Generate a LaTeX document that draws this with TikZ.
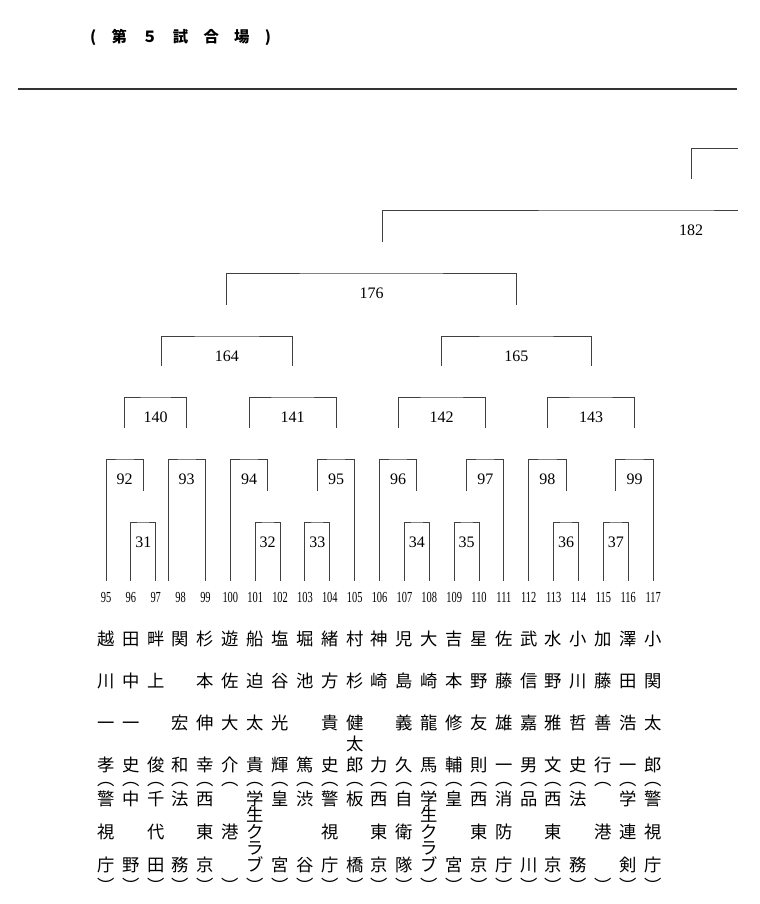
\documentclass[tikz,border=0pt]{standalone}
\usepackage{fontspec}
\setmainfont{Liberation Serif}
\newfontfamily\jp{Noto Sans CJK JP}
\newfontfamily\narrow[FakeStretch=0.68]{Liberation Serif}
\usetikzlibrary{positioning,calc}
\tikzset{font=\fontsize{12}{12}\selectfont}

\begin{document}
\begin{tikzpicture}[x=0.75pt,y=-0.75pt,
    tie/.style={draw=black!75,line width=0.7pt},
    match/.style={anchor=north,minimum height=30pt,inner sep=0pt},
    num/.style={anchor=base,inner sep=0pt,font=\narrow\fontsize{11.5}{11.5}\selectfont},
    who/.style={anchor=north,inner sep=0pt,align=center,font=\jp\fontsize{13}{31.7}\selectfont},
    club/.style={anchor=north,inner sep=0pt,align=center,font=\jp\fontsize{13}{24.75}\selectfont},
    paren/.style={anchor=north,inner sep=0pt,font=\jp\fontsize{13}{13}\selectfont}]
  \useasboundingbox (0,0) rectangle (760,904);

  \node[font=\jp\bfseries\fontsize{11.5}{11.5}\selectfont] (title) at (180.5,37) {(　第　５　試　合　場　)};
  \draw[line width=1.3pt,black!80] (18,89) -- (737,89);

  % players
  \foreach \i/\nm/\af [count=\k from 0] in {
    95/{越\\川\\一\\孝}/{警\\視\\庁},
    96/{田\\中\\一\\史}/{中\\　\\野},
    97/{畔\\上\\　\\俊}/{千\\代\\田},
    98/{関\\　\\宏\\和}/{法\\　\\務},
    99/{杉\\本\\伸\\幸}/{西\\東\\京},
    100/{遊\\佐\\大\\介}/{　\\港\\　},
    101/{船\\迫\\太\\貴}/{学\\[-12.4pt]生\\[-12.4pt]ク\\[-12.4pt]ラ\\[-12.4pt]ブ},
    102/{塩\\谷\\光\\輝}/{皇\\　\\宮},
    103/{堀\\池\\　\\篤}/{渋\\　\\谷},
    104/{緒\\方\\貴\\史}/{警\\視\\庁},
    105/{村\\杉\\健\\[-15.9pt]太\\[-15.9pt]郎}/{板\\　\\橋},
    106/{神\\崎\\　\\力}/{西\\東\\京},
    107/{児\\島\\義\\久}/{自\\衛\\隊},
    108/{大\\崎\\龍\\馬}/{学\\[-12.4pt]生\\[-12.4pt]ク\\[-12.4pt]ラ\\[-12.4pt]ブ},
    109/{吉\\本\\修\\輔}/{皇\\　\\宮},
    110/{星\\野\\友\\則}/{西\\東\\京},
    111/{佐\\藤\\雄\\一}/{消\\防\\庁},
    112/{武\\信\\嘉\\男}/{品\\　\\川},
    113/{水\\野\\雅\\文}/{西\\東\\京},
    114/{小\\川\\哲\\史}/{法\\　\\務},
    115/{加\\藤\\善\\行}/{　\\港\\　},
    116/{澤\\田\\浩\\一}/{学\\連\\剣},
    117/{小\\関\\太\\郎}/{警\\視\\庁}}{
    \node[num] (p\i) at (106+24.87*\k,602.2) {\i};
    \coordinate (f\i) at (106+24.87*\k,581);
    \node[who,below=19pt of p\i.base] (n\i) {\rule{0pt}{1em}\nm};
    \node[paren,below=134.5pt of p\i.base] (o\i) {︵};
    \node[club,below=139pt of p\i.base] (a\i) {\rule{0pt}{1em}\af};
    \node[paren,below=207pt of p\i.base] (c\i) {︶};
  }
  \coordinate (g98) at (168,581);

  % matches
  \foreach \m/\mx/\my in {31/143.3/522, 32/267.7/522, 33/317.4/522, 34/416.9/522,
      35/466.6/522, 36/566.1/522, 37/615.8/522,
      92/124.7/459, 93/186.7/459, 94/249/459, 95/336/459,
      96/398/459, 97/485.3/459, 98/547.4/459, 99/634.5/459,
      140/155.7/397, 141/292.5/397, 142/441.7/397, 143/591/397,
      164/226.8/336, 165/516.3/336, 176/371.5/273, 182/691/210}{
    \node[match] (m\m) at (\mx,\my) {\m};
    \coordinate (s\m) at ($(m\m.north)+(0,-31)$);
  }

  % first round
  \draw[tie] (f96) |- (m31.north) -| (f97);
  \draw[tie] (f101) |- (m32.north) -| (f102);
  \draw[tie] (f103) |- (m33.north) -| (f104);
  \draw[tie] (f107) |- (m34.north) -| (f108);
  \draw[tie] (f109) |- (m35.north) -| (f110);
  \draw[tie] (f113) |- (m36.north) -| (f114);
  \draw[tie] (f115) |- (m37.north) -| (f116);
  % second round
  \draw[tie] (f95) |- (m92.north) -| (s31);
  \draw[tie] (g98) |- (m93.north) -| (f99);
  \draw[tie] (f100) |- (m94.north) -| (s32);
  \draw[tie] (s33) |- (m95.north) -| (f105);
  \draw[tie] (f106) |- (m96.north) -| (s34);
  \draw[tie] (s35) |- (m97.north) -| (f111);
  \draw[tie] (f112) |- (m98.north) -| (s36);
  \draw[tie] (s37) |- (m99.north) -| (f117);
  % later rounds
  \draw[tie] (s92) |- (m140.north) -| (s93);
  \draw[tie] (s94) |- (m141.north) -| (s95);
  \draw[tie] (s96) |- (m142.north) -| (s97);
  \draw[tie] (s98) |- (m143.north) -| (s99);
  \draw[tie] ([xshift=4pt]s140) |- (m164.north) -| (s141);
  \draw[tie] (s142) |- (m165.north) -| (s143);
  \draw[tie] (s164) |- (m176.north) -| (s165);
  \coordinate (e182) at (738,210);
  \draw[tie] ([xshift=8pt]s176) |- (m182.north) -- (e182);
  \coordinate (e188) at (738,148);
  \draw[tie] (s182) |- (e188);
\end{tikzpicture}
\end{document}
